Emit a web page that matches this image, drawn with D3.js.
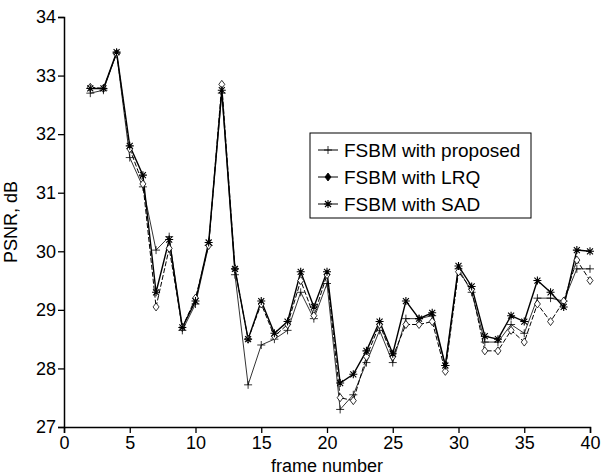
<!DOCTYPE html>
<html>
<head>
    <meta charset="utf-8">
    <title>PSNR per frame</title>
    <script src="https://d3js.org/d3.v7.min.js"></script>
    <style>
        body { margin: 0; background: #fff; }
        text { font-family: "Liberation Sans", Arial, sans-serif; fill: #000; }
    </style>
</head>
<body>
    <script>
        // Data
        const frames = d3.range(2, 41);
        const proposed = [32.7, 32.75, 33.38, 31.6, 31.1, 30.02, 30.25, 28.65, 29.1, 30.1,
            32.7, 29.6, 27.72, 28.4, 28.5, 28.65, 29.3, 28.85, 29.45, 27.3,
            27.55, 28.1, 28.65, 28.1, 28.85, 28.85, 28.9, 28.05, 29.7, 29.3,
            28.45, 28.45, 28.75, 28.6, 29.2, 29.2, 29.15, 29.7, 29.7];
        const lrq = [32.8, 32.78, 33.38, 31.75, 31.15, 29.05, 30.05, 28.7, 29.2, 30.1,
            32.85, 29.7, 28.5, 29.1, 28.55, 28.75, 29.5, 28.9, 29.6, 27.5,
            27.45, 28.2, 28.75, 28.2, 28.75, 28.75, 28.8, 27.95, 29.65, 29.35,
            28.3, 28.3, 28.65, 28.45, 29.1, 28.8, 29.15, 29.85, 29.5];
        const sad = [32.78, 32.78, 33.4, 31.8, 31.3, 29.3, 30.2, 28.7, 29.15, 30.15,
            32.75, 29.7, 28.5, 29.15, 28.6, 28.8, 29.65, 29.05, 29.65, 27.75,
            27.9, 28.3, 28.8, 28.25, 29.15, 28.85, 28.95, 28.05, 29.75, 29.4,
            28.55, 28.5, 28.9, 28.8, 29.5, 29.3, 29.05, 30.02, 30.0];
        const seriesNames = ["FSBM with proposed", "FSBM with LRQ", "FSBM with SAD"];
        const xTicks = [0, 5, 10, 15, 20, 25, 30, 35, 40];
        const yTicks = [27, 28, 29, 30, 31, 32, 33, 34];

        const margin = { top: 17, right: 12, bottom: 49, left: 64 },
            width = 602 - margin.left - margin.right,
            height = 476 - margin.top - margin.bottom;

        const svg = d3.select("body")
            .append("svg")
            .attr("width", 602)
            .attr("height", 476);

        const g = svg.append("g")
            .attr("transform", "translate(" + margin.left + "," + margin.top + ")");

        const x = d3.scaleLinear().domain([0, 40]).range([0, width]);
        const y = d3.scaleLinear().domain([27, 34]).range([height, 0]);

        // Axes
        const xAxis = g.append("g")
            .attr("transform", "translate(0," + height + ")")
            .call(d3.axisBottom(x).tickValues(xTicks).tickFormat(d3.format("d")).tickSize(6).tickPadding(3));
        const yAxis = g.append("g")
            .call(d3.axisLeft(y).tickValues(yTicks).tickFormat(d3.format("d")).tickSize(6).tickPadding(2));
        [xAxis, yAxis].forEach(a => {
            a.select(".domain").attr("stroke", "#000").attr("stroke-width", 1.5);
            a.selectAll(".tick line").attr("stroke", "#000").attr("stroke-width", 1.3);
            a.selectAll(".tick text").style("font-size", "18px").attr("fill", "#000");
        });

        g.append("text")
            .attr("x", width / 2)
            .attr("y", height + 45)
            .attr("text-anchor", "middle")
            .style("font-size", "18px")
            .text("frame number");

        g.append("text")
            .attr("transform", "translate(" + (-47) + "," + (height / 2) + ") rotate(-90)")
            .attr("text-anchor", "middle")
            .style("font-size", "18px")
            .text("PSNR, dB");

        // Series
        const series = [
            { name: seriesNames[0], values: proposed, dash: null, width: 0.8, marker: "plus" },
            { name: seriesNames[1], values: lrq, dash: "5,2", width: 1.0, marker: "diamond" },
            { name: seriesNames[2], values: sad, dash: null, width: 1.4, marker: "star" }
        ];

        const line = d3.line()
            .x((d, i) => x(frames[i]))
            .y(d => y(d));

        const symbolPath = {
            plus: "M-4,0H4M0,-4V4",
            star: "M-4,0H4M0,-4V4M-3,-3L3,3M-3,3L3,-3",
            diamond: "M0,-4L3,0L0,4L-3,0Z"
        };

        function drawMarker(sel, type, filled) {
            sel.append("path")
                .attr("d", symbolPath[type])
                .attr("fill", type === "diamond" ? (filled ? "#000" : "#fff") : "none")
                .attr("stroke", "#000")
                .attr("stroke-width", type === "star" ? 1.1 : 0.8);
        }

        series.forEach(s => {
            g.append("path")
                .datum(s.values)
                .attr("fill", "none")
                .attr("stroke", "#000")
                .attr("stroke-width", s.width)
                .attr("stroke-dasharray", s.dash)
                .attr("d", line);
        });

        series.forEach(s => {
            g.selectAll(null)
                .data(s.values)
                .enter()
                .append("g")
                .attr("transform", (d, i) => "translate(" + x(frames[i]) + "," + y(d) + ")")
                .each(function () { drawMarker(d3.select(this), s.marker, false); });
        });

        // Legend
        const legend = svg.append("g").attr("transform", "translate(310,133)");
        legend.append("rect")
            .attr("width", 221)
            .attr("height", 85)
            .attr("fill", "#fff")
            .attr("stroke", "#000")
            .attr("stroke-width", 1);

        series.forEach((s, i) => {
            const row = legend.append("g").attr("transform", "translate(0," + (17 + i * 27) + ")");
            row.append("line")
                .attr("x1", 8).attr("x2", 28)
                .attr("stroke", "#000")
                .attr("stroke-width", 1);
            const m = row.append("g").attr("transform", "translate(18,0)");
            drawMarker(m, s.marker, true);
            row.append("text")
                .attr("x", 34)
                .attr("dy", "0.35em")
                .style("font-size", "19px")
                .text(s.name);
        });
    </script>
</body>
</html>
